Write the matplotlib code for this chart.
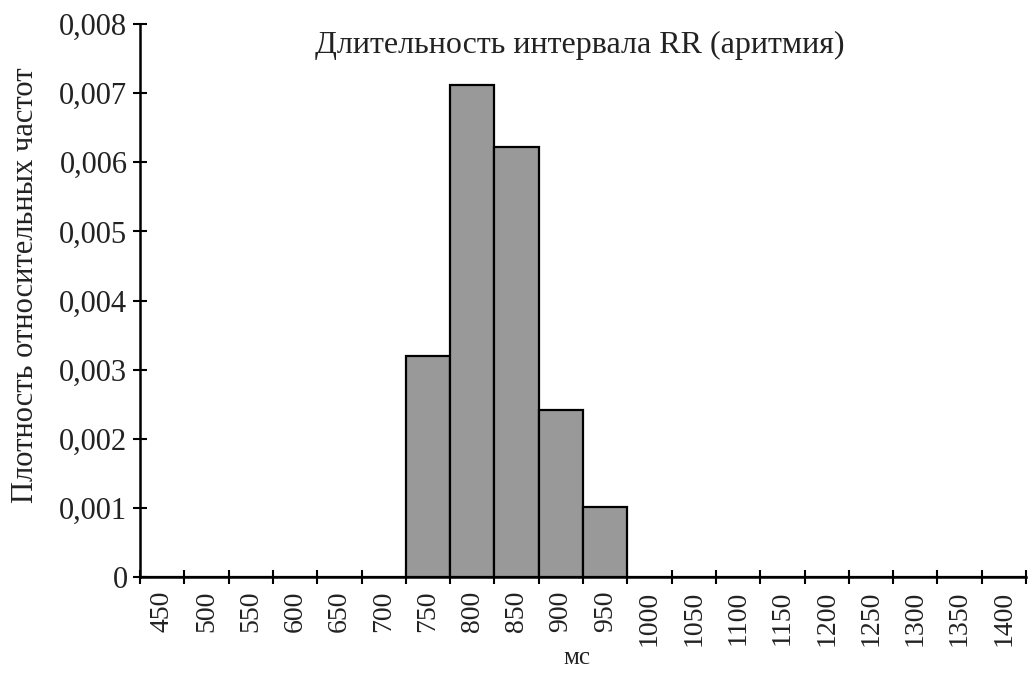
import matplotlib
matplotlib.use("Agg")
import matplotlib.pyplot as plt
from matplotlib.ticker import FixedLocator, FuncFormatter

categories = ["450", "500", "550", "600", "650", "700", "750", "800", "850", "900",
              "950", "1000", "1050", "1100", "1150", "1200", "1250", "1300", "1350", "1400"]
density = [0, 0, 0, 0, 0, 0, 0.0032, 0.00712, 0.00622, 0.00242,
           0.00101, 0, 0, 0, 0, 0, 0, 0, 0, 0]
yticks = [0, 0.001, 0.002, 0.003, 0.004, 0.005, 0.006, 0.007, 0.008]

plt.rcParams['font.family'] = ['Liberation Serif', 'DejaVu Serif']

fig = plt.figure(figsize=(10.29, 6.79), dpi=100)
ax = fig.add_axes([140/1029, 1 - 577/679, (1026 - 140)/1029, (577 - 24)/679])

x = list(range(len(categories)))
ax.bar(x, density, width=1.0, color="#999999", edgecolor="black", linewidth=1.6, zorder=2)

ax.set_xlim(-0.5, len(categories) - 0.5)
ax.set_ylim(0, 0.008)

ax.xaxis.set_major_locator(FixedLocator(x))
ax.set_xticklabels(categories, rotation=90, fontsize=20, color="#222222")
ax.tick_params(axis='x', which='major', length=0, pad=10)
ax.xaxis.set_minor_locator(FixedLocator([i - 0.5 for i in range(len(categories) + 1)]))
ax.tick_params(axis='x', which='minor', direction='inout', length=10, width=1.5)

ax.set_yticks(yticks)
ax.yaxis.set_major_formatter(FuncFormatter(lambda v, p: "0" if v == 0 else f"{v:.3f}".replace(".", ",")))
ax.tick_params(axis='y', direction='inout', length=10, width=1.5, labelsize=22, labelcolor="#222222", pad=4)

for s in ("top", "right"):
    ax.spines[s].set_visible(False)
for s in ("left", "bottom"):
    ax.spines[s].set_linewidth(1.8)

fig.text(26/1029, 1 - 285/679, "Плотность относительных частот", rotation=90,
         ha="center", va="center", fontsize=22, color="#222222")
fig.text(577/1029, 1 - 658/679, "мс", ha="center", va="center", fontsize=18, color="#222222")
ax.text(580/1029, 1 - 45/679, "Длительность интервала RR (аритмия)", transform=fig.transFigure,
        ha="center", va="center", fontsize=23, color="#222222")

fig.savefig("out.png", dpi=100)
